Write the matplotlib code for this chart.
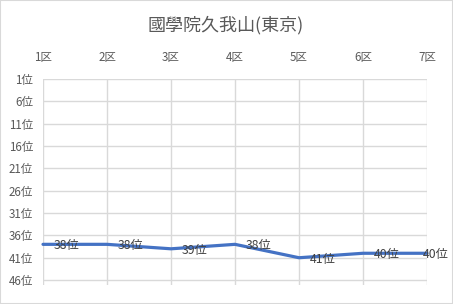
import matplotlib
matplotlib.use("Agg")
import matplotlib.pyplot as plt
from matplotlib.patches import Rectangle

plt.rcParams['font.family'] = ['Noto Sans CJK JP', 'DejaVu Sans']

title = "國學院久我山(東京)"
sections = ["1区", "2区", "3区", "4区", "5区", "6区", "7区"]
ranks = [38, 38, 39, 38, 41, 40, 40]
rank_ticks = [1, 6, 11, 16, 21, 26, 31, 36, 41, 46]

fig = plt.figure(figsize=(4.53, 3.04), dpi=100)
fig.patches.append(Rectangle((0, 0), 1, 1, transform=fig.transFigure,
                             fill=False, edgecolor='#d9d9d9', linewidth=1.5))
ax = fig.add_axes([43/453, 1-285/304, (427-43)/453, (285-79)/304])

x = list(range(len(sections)))
ax.plot(x, ranks, color='#4472C4', linewidth=2.3, solid_joinstyle='round',
        solid_capstyle='round', zorder=3, clip_on=False)

for i, r in enumerate(ranks):
    dx = 8 if i < len(ranks) - 1 else -3
    ax.annotate(f"{r}位", (i, r), xytext=(dx, -1), textcoords='offset points',
                ha='left', va='center', fontsize=8.8, color='#404040', zorder=4,
                annotation_clip=False)

ax.set_xlim(0, len(sections) - 1)
ax.set_ylim(47.1, 1)
ax.set_yticks(rank_ticks)
ax.set_yticklabels([f"{t}位" for t in rank_ticks])
ax.set_xticks(x)
ax.set_xticklabels(sections)
ax.xaxis.tick_top()
ax.tick_params(axis='both', length=0, labelsize=8.3, labelcolor='#595959')
ax.tick_params(axis='x', pad=11)
ax.tick_params(axis='y', pad=7)

for s in ax.spines.values():
    s.set_visible(False)
ax.grid(True, color='#d9d9d9', linewidth=1)
ax.set_axisbelow(True)
fig.suptitle(title, x=226/453, y=1-25/304, va='center', fontsize=13, color='#595959')

fig.savefig("out.png", dpi=100)
